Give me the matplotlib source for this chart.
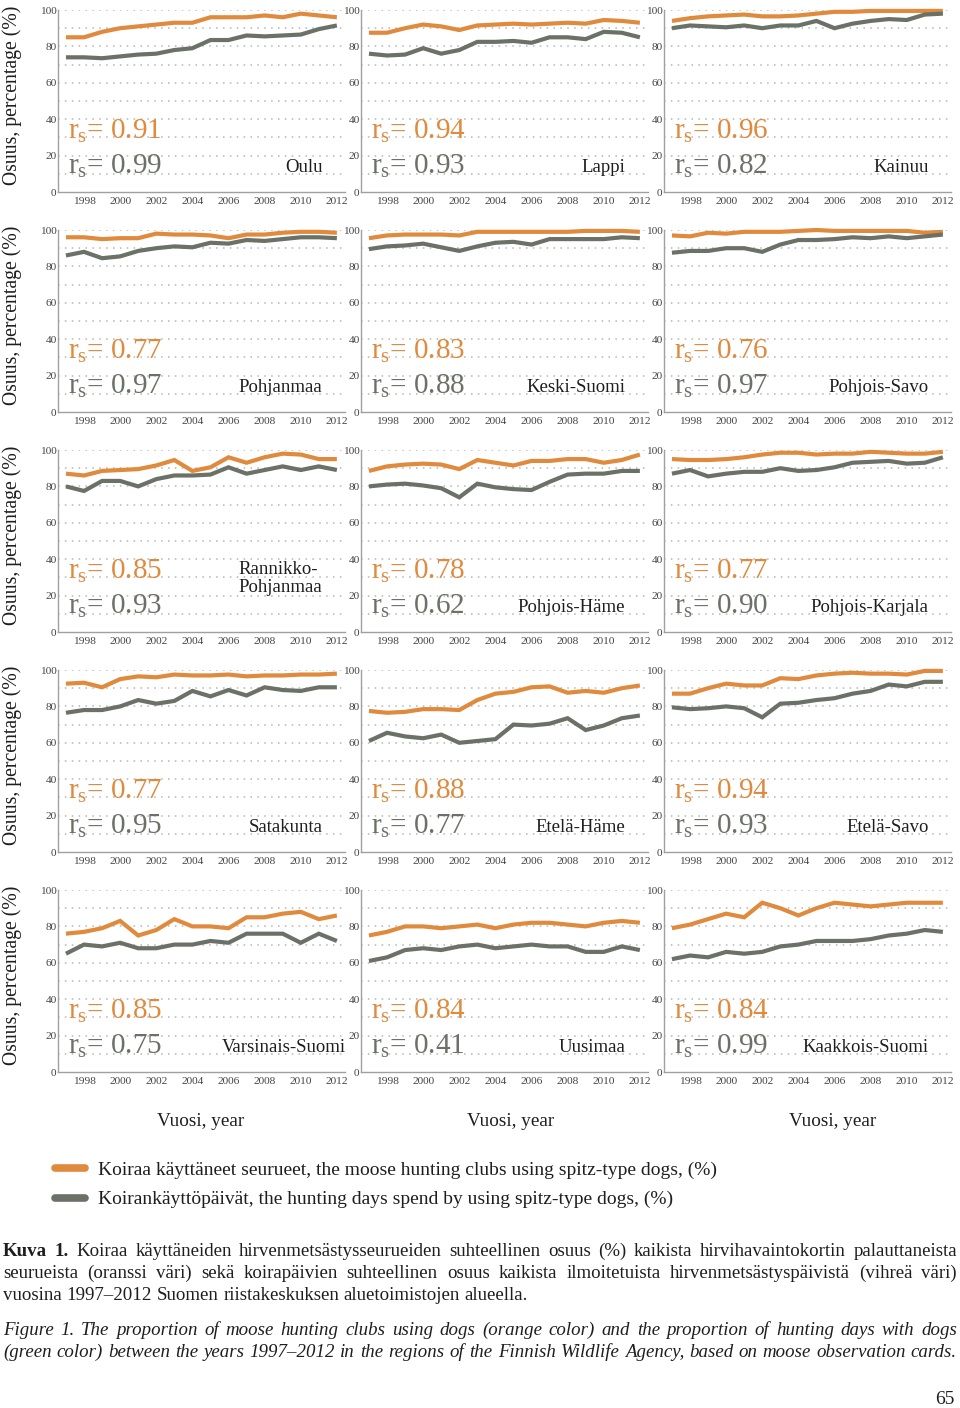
import matplotlib
matplotlib.use('Agg')
import matplotlib.pyplot as plt
from matplotlib.lines import Line2D

plt.rcParams['font.family'] = ['Liberation Serif', 'DejaVu Serif']

## Data
years = list(range(1997, 2013))
year_ticks = [1998, 2000, 2002, 2004, 2006, 2008, 2010, 2012]
y_ticks = [0, 20, 40, 60, 80, 100]

regions = ['Oulu', 'Lappi', 'Kainuu',
           'Pohjanmaa', 'Keski-Suomi', 'Pohjois-Savo',
           'Rannikko-\nPohjanmaa', 'Pohjois-Häme', 'Pohjois-Karjala',
           'Satakunta', 'Etelä-Häme', 'Etelä-Savo',
           'Varsinais-Suomi', 'Uusimaa', 'Kaakkois-Suomi']

rs_clubs = ['0.91', '0.94', '0.96', '0.77', '0.83', '0.76', '0.85', '0.78',
            '0.77', '0.77', '0.88', '0.94', '0.85', '0.84', '0.84']
rs_days = ['0.99', '0.93', '0.82', '0.97', '0.88', '0.97', '0.93', '0.62',
           '0.90', '0.95', '0.77', '0.93', '0.75', '0.41', '0.99']

# orange = clubs using dogs (%), grey = hunting days with dogs (%)
oulu_clubs = [85, 85, 88, 90, 91, 92, 93, 93, 96, 96, 96, 97, 96, 98, 97, 96]
oulu_days = [74, 74, 73.5, 74.5, 75.5, 76, 78, 79, 83.5, 83.5, 86, 85.5, 86, 86.5, 89.5, 91.5]
lappi_clubs = [87.5, 87.5, 90, 92, 91, 89, 91.5, 92, 92.5, 92, 92.5, 93, 92.5, 94.5, 94, 93]
lappi_days = [76, 75, 75.5, 79, 76, 78, 82.5, 82.5, 83, 82, 85, 85, 84, 88, 87.5, 85]
kainuu_clubs = [94, 95.5, 96.5, 97, 97.5, 96.5, 96.5, 97, 98, 99, 99, 99.5, 99.5, 99.5, 99.5, 99.5]
kainuu_days = [90, 91.5, 91, 90.5, 91.5, 90, 91.5, 91.5, 94, 90, 92.5, 94, 95, 94.5, 97.5, 98]
pohjanmaa_clubs = [96, 96, 95, 95.5, 95.5, 98, 97.5, 97.5, 97, 95.5, 97.5, 97.5, 98.5, 99, 99, 98.5]
pohjanmaa_days = [86, 88, 84.5, 85.5, 88.5, 90, 91, 90.5, 93, 92.5, 94.5, 94, 95, 96, 96, 95.5]
keskisuomi_clubs = [95.5, 97, 97.5, 97.5, 97.5, 97, 99, 99, 99, 99, 99, 99, 99.5, 99.5, 99.5, 99]
keskisuomi_days = [89.5, 91, 91.5, 92.5, 90.5, 88.5, 91, 93, 93.5, 92, 95, 95, 95, 95, 96, 95.5]
pohjoissavo_clubs = [97, 96.5, 98.5, 98, 99, 99, 99, 99.5, 100, 99.5, 99.5, 99.5, 99.5, 99.5, 98.5, 99]
pohjoissavo_days = [87.5, 88.5, 88.5, 90, 90, 88, 92, 94.5, 94.5, 95, 96, 95.5, 96.5, 95.5, 96.5, 97.5]
rannikko_clubs = [87, 86, 88.5, 89, 89.5, 91.5, 94.5, 88.5, 90.5, 96, 93, 96, 98, 97.5, 95, 95]
rannikko_days = [80, 77.5, 83, 83, 80, 84, 86, 86, 86.5, 90.5, 87, 89, 91, 89, 91, 89]
pohjoishame_clubs = [88.5, 91, 92, 92.5, 92, 89.5, 94.5, 93, 91.5, 94, 94, 95, 95, 93, 94.5, 97.5]
pohjoishame_days = [80, 81, 81.5, 80.5, 79, 74, 81.5, 79.5, 78.5, 78, 82.5, 86.5, 87, 87, 88.5, 88.5]
pohjoiskarjala_clubs = [95, 94.5, 94.5, 95, 96, 97.5, 98.5, 98.5, 97.5, 98, 98, 99, 98.5, 98, 98, 99]
pohjoiskarjala_days = [87, 89, 85.5, 87, 88, 88, 90, 88.5, 89, 90.5, 93, 93.5, 94, 92.5, 93, 96]
satakunta_clubs = [92.5, 93, 90.5, 95, 96.5, 96, 97.5, 97, 97, 97.5, 96.5, 97, 97, 97.5, 97.5, 98]
satakunta_days = [76.5, 78, 78, 80, 83.5, 81.5, 83, 88.5, 85.5, 89, 86, 90.5, 89, 88.5, 90.5, 90.5]
etelahame_clubs = [77.5, 76.5, 77, 78.5, 78.5, 78, 83.5, 87, 88, 90.5, 91, 87.5, 88.5, 87.5, 90, 91.5]
etelahame_days = [61, 65.5, 63.5, 62.5, 64.5, 60, 61, 62, 70, 69.5, 70.5, 73.5, 67, 69.5, 73.5, 75]
etelasavo_clubs = [87, 87, 90, 92.5, 91.5, 91.5, 95.5, 95, 97, 98, 98.5, 98, 98, 97.5, 99.5, 99.5]
etelasavo_days = [79.5, 78.5, 79, 80, 79, 74, 81.5, 82, 83.5, 84.5, 87, 88.5, 92, 91, 93.5, 93.5]
varsinais_clubs = [76, 77, 79, 83, 75, 78, 84, 80, 80, 79, 85, 85, 87, 88, 84, 86]
varsinais_days = [65, 70, 69, 71, 68, 68, 70, 70, 72, 71, 76, 76, 76, 71, 76, 72]
uusimaa_clubs = [75, 77, 80, 80, 79, 80, 81, 79, 81, 82, 82, 81, 80, 82, 83, 82]
uusimaa_days = [61, 63, 67, 68, 67, 69, 70, 68, 69, 70, 69, 69, 66, 66, 69, 67]
kaakkois_clubs = [79, 81, 84, 87, 85, 93, 90, 86, 90, 93, 92, 91, 92, 93, 93, 93]
kaakkois_days = [62, 64, 63, 66, 65, 66, 69, 70, 72, 72, 72, 73, 75, 76, 78, 77]

clubs = [oulu_clubs, lappi_clubs, kainuu_clubs, pohjanmaa_clubs, keskisuomi_clubs,
         pohjoissavo_clubs, rannikko_clubs, pohjoishame_clubs, pohjoiskarjala_clubs,
         satakunta_clubs, etelahame_clubs, etelasavo_clubs, varsinais_clubs,
         uusimaa_clubs, kaakkois_clubs]
days = [oulu_days, lappi_days, kainuu_days, pohjanmaa_days, keskisuomi_days,
        pohjoissavo_days, rannikko_days, pohjoishame_days, pohjoiskarjala_days,
        satakunta_days, etelahame_days, etelasavo_days, varsinais_days,
        uusimaa_days, kaakkois_days]

ORANGE = '#df8a3d'
GREY = '#6b7167'
TXT = '#1e1e1e'

W, H = 960, 1408
fig = plt.figure(figsize=(W / 100, H / 100), dpi=100, facecolor='white')

col_left = [58, 361, 664]         # pixel left of each column's axes
row_top = [10, 230, 450, 670, 890]  # pixel top of each row's axes
ax_w, ax_h = 287, 182

for i, name in enumerate(regions):
    r, c = divmod(i, 3)
    ax = fig.add_axes([col_left[c] / W, 1 - (row_top[r] + ax_h) / H, ax_w / W, ax_h / H])
    ax.set_xlim(1996.56, 2012.45)
    ax.set_ylim(0, 100)
    for g in range(10, 101, 10):
        ax.axhline(g, color='#b5b5b5', lw=1.1, ls=(0, (1, 3.5)), zorder=0)
    ax.plot(years, clubs[i], color=ORANGE, lw=3, solid_capstyle='butt', solid_joinstyle='miter', clip_on=False, zorder=3)
    ax.plot(years, days[i], color=GREY, lw=3, solid_capstyle='butt', solid_joinstyle='miter', clip_on=False, zorder=3)
    for s in ['top', 'right']:
        ax.spines[s].set_visible(False)
    for s in ['left', 'bottom']:
        ax.spines[s].set_color('#a0a0a0')
        ax.spines[s].set_linewidth(1)
    ax.set_xticks(year_ticks)
    ax.set_yticks(y_ticks)
    ax.set_xticklabels([str(y) for y in year_ticks])
    ax.tick_params(axis='both', length=0, labelsize=8.2, labelcolor='#444444')
    ax.tick_params(axis='x', pad=3.5)
    ax.tick_params(axis='y', pad=1)

    # correlation texts
    ax.text(1997.1, 29.7, r'r$_{\mathregular{s}}$= ' + rs_clubs[i], color=ORANGE,
            fontsize=21, ha='left', va='baseline')
    ax.text(1997.1, 10.4, r'r$_{\mathregular{s}}$= ' + rs_days[i], color=GREY,
            fontsize=21, ha='left', va='baseline')

    # region name
    nlines = name.count('\n') + 1
    name_x = 2012.5 if name == 'Varsinais-Suomi' else 2011.2
    ax.text(name_x, 11 + 11 * (nlines - 1), name, color=TXT, fontsize=13.5,
            ha='right', va='baseline', multialignment='left', linespacing=1.05)

    if c == 0:
        fig.text(12 / W, 1 - (row_top[r] + ax_h / 2 - 6) / H, 'Osuus, percentage (%)',
                 rotation=90, ha='center', va='center', fontsize=14.2, color=TXT)

for xc in [201, 511, 833]:
    fig.text(xc / W, 1 - 1121 / H, 'Vuosi, year', ha='center', va='center', fontsize=13.8, color=TXT)

# legend
handles = [Line2D([], [], color=ORANGE, lw=5.5, solid_capstyle='round'),
           Line2D([], [], color=GREY, lw=5.5, solid_capstyle='round')]
labels = ['Koiraa käyttäneet seurueet, the moose hunting clubs using spitz-type dogs, (%)',
          'Koirankäyttöpäivät, the hunting days spend by using spitz-type dogs, (%)']
fig.legend(handles, labels, loc='upper left', bbox_to_anchor=(55 / W, 1 - 1161 / H),
           frameon=False, fontsize=14, handlelength=1.55, handletextpad=0.65,
           labelspacing=0.62, borderpad=0, borderaxespad=0, labelcolor=TXT)

# caption, justified line by line
renderer = fig.canvas.get_renderer()


def caption_line(base_y, words, style='normal', n_bold=0, justify=True, size=13.6):
    items = []
    for k, w in enumerate(words):
        t = fig.text(0, 1 - base_y / H, w, fontsize=size, style=style, color=TXT,
                     weight='bold' if k < n_bold else 'normal', va='baseline', ha='left')
        items.append(t)
    widths = [t.get_window_extent(renderer).width for t in items]
    space = size * 100 / 72 * 0.25
    if justify and len(items) > 1:
        space = (954 - sum(widths)) / (len(items) - 1)
    x = 3
    for t, wd in zip(items, widths):
        t.set_x(x / W)
        x += wd + space


kuva = ['Kuva 1. Koiraa käyttäneiden hirvenmetsästysseurueiden suhteellinen osuus (%) kaikista hirvihavaintokortin palauttaneista',
        'seurueista (oranssi väri) sekä koirapäivien suhteellinen osuus kaikista ilmoitetuista hirvenmetsästyspäivistä (vihreä väri)',
        'vuosina 1997–2012 Suomen riistakeskuksen aluetoimistojen alueella.']
figure_txt = ['Figure 1. The proportion of moose hunting clubs using dogs (orange color) and the proportion of hunting days with dogs',
              '(green color) between the years 1997–2012 in the regions of the Finnish Wildlife Agency, based on moose observation cards.']

caption_line(1256, kuva[0].split(' '), n_bold=2)
caption_line(1278, kuva[1].split(' '))
caption_line(1300, kuva[2].split(' '), justify=False)
caption_line(1335, figure_txt[0].split(' '), style='italic')
caption_line(1357, figure_txt[1].split(' '), style='italic')

fig.text(945 / W, 1 - 1399 / H, '65', ha='center', va='center', fontsize=14, color=TXT)

fig.savefig('out.png', dpi=100, facecolor='white')
